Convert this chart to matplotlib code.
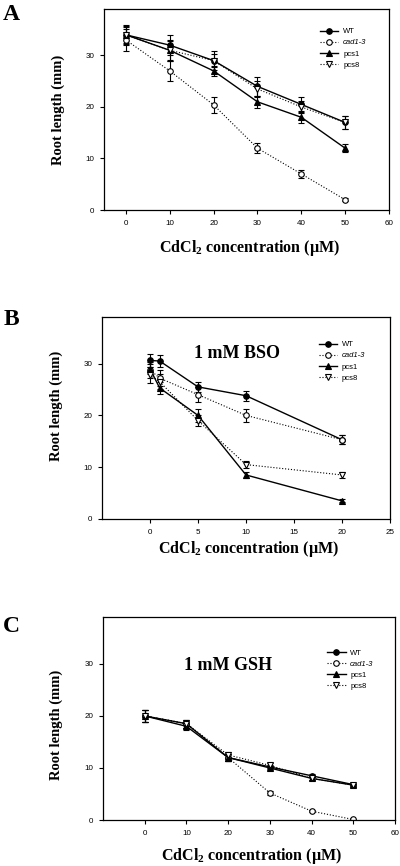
import numpy as np
import matplotlib
matplotlib.use("Agg")
import matplotlib.pyplot as plt
from matplotlib.lines import Line2D

plt.rcParams['font.family'] = ['Liberation Sans', 'DejaVu Sans']
plt.rcParams['mathtext.fontset'] = 'custom'
plt.rcParams['mathtext.rm'] = 'Liberation Serif:bold'
plt.rcParams['mathtext.default'] = 'rm'

labels = ['WT', 'cad1-3', 'pcs1', 'pcs8']

# Panel A - CdCl2 only
xA = [0, 10, 20, 30, 40, 50]
A_wt = [34, 32, 29, 24, 20.5, 17]
A_wt_err = [2, 2, 1.8, 1.9, 1.5, 1.3]
A_cad = [33, 27, 20.4, 12, 7, 2]
A_cad_err = [2.2, 2, 1.6, 1, 0.7, 0.3]
A_pcs1 = [34, 31, 27, 21, 18, 12]
A_pcs1_err = [1.8, 2, 1, 1.2, 1.2, 0.8]
A_pcs8 = [34, 31, 29, 23.5, 20, 17]
A_pcs8_err = [1.5, 1.8, 1.2, 1.5, 1.2, 1.2]

# Panel B - 1 mM BSO
xB = [0, 1, 5, 10, 20]
B_wt = [30.6, 30.5, 25.5, 23.8, 15.3]
B_wt_err = [1.3, 1.2, 1, 1, 0.9]
B_cad = [28.8, 27.2, 24, 20, 15.3]
B_cad_err = [1.5, 1.5, 1.5, 1.2, 0.9]
B_pcs1 = [29, 25.3, 20, 8.5, 3.5]
B_pcs1_err = [1, 1.2, 1.2, 0.6, 0.3]
B_pcs8 = [27.8, 26.5, 19, 10.5, 8.5]
B_pcs8_err = [1.5, 1.5, 1, 0.7, 0.5]

# Panel C - 1 mM GSH
xC = [0, 10, 20, 30, 40, 50]
C_wt = [20, 18.5, 12, 10.2, 8.5, 6.8]
C_wt_err = [1.2, 0.8, 0.6, 0.4, 0.3, 0.3]
C_cad = [20, 18.5, 12, 5.2, 1.7, 0.1]
C_cad_err = [1.2, 0.8, 0.6, 0.3, 0.2, 0.1]
C_pcs1 = [20, 18, 12, 10, 8, 6.7]
C_pcs1_err = [1.2, 0.8, 0.6, 0.4, 0.3, 0.3]
C_pcs8 = [20, 18.5, 12.5, 10.5, 8, 6.7]
C_pcs8_err = [1.2, 0.8, 0.6, 0.4, 0.3, 0.3]

styles = [
    dict(marker='o', mfc='black', ls='-', lw=1.0),
    dict(marker='o', mfc='white', ls=':', lw=0.8),
    dict(marker='^', mfc='black', ls='-', lw=1.0),
    dict(marker='v', mfc='white', ls=':', lw=0.8),
]

fig = plt.figure(figsize=(4, 8.66), dpi=100)


def panel(rect, x, series, xlim, xticks, letter, letter_y, note, note_pos,
          leg_anchor, xlab_y, ylab_y):
    ax = fig.add_axes(rect)
    for (y, e), st in zip(series, styles):
        ax.errorbar(x, y, yerr=e, color='black', ms=4, mec='black', mew=0.8,
                    elinewidth=0.8, capsize=2.5, capthick=1.1, **st)
    ax.set_xlim(*xlim)
    ax.set_ylim(0, 39)
    ax.set_xticks(xticks)
    ax.set_yticks([0, 10, 20, 30])
    ax.tick_params(direction='out', length=3, width=0.8, labelsize=5.8,
                   top=False, right=False, pad=4)
    for s in ax.spines.values():
        s.set_linewidth(0.9)
    ax.set_ylabel('Root length (mm)', fontfamily='Liberation Serif',
                  fontweight='bold', fontsize=10.5)
    ax.yaxis.set_label_coords(-0.137, ylab_y)
    ax.set_xlabel('CdCl$_2$ concentration (µM)', fontfamily='Liberation Serif',
                  fontweight='bold', fontsize=11.5)
    ax.xaxis.set_label_coords(0.51, xlab_y)
    handles = [Line2D([], [], color='black', ms=4, mec='black', mew=0.8, **st)
               for st in styles]
    leg = ax.legend(handles, labels, loc='upper left', bbox_to_anchor=leg_anchor,
                    frameon=False, fontsize=5.5, handlelength=2.4,
                    handletextpad=0.6, labelspacing=0.5, borderpad=0,
                    numpoints=1)
    leg.get_texts()[1].set_fontstyle('italic')
    fig.text(0.008, letter_y, letter, fontfamily='Liberation Serif',
             fontweight='bold', fontsize=17, va='top', ha='left')
    if note:
        ax.text(note_pos[0], note_pos[1], note, transform=ax.transAxes,
                fontfamily='Liberation Serif', fontweight='bold', fontsize=13,
                ha='center', va='center')
    return ax


panel([0.26, 0.7575, 0.7125, 0.232], xA,
      [(A_wt, A_wt_err), (A_cad, A_cad_err), (A_pcs1, A_pcs1_err), (A_pcs8, A_pcs8_err)],
      (-5, 60), range(0, 61, 10), 'A', 0.995, None, None,
      (0.745, 0.925), -0.14, 0.5)

panel([0.255, 0.4007, 0.72, 0.2333], xB,
      [(B_wt, B_wt_err), (B_cad, B_cad_err), (B_pcs1, B_pcs1_err), (B_pcs8, B_pcs8_err)],
      (-5, 25), range(0, 26, 5), 'B', 0.643, '1 mM BSO', (0.469, 0.82),
      (0.74, 0.9), -0.1, 0.56)

panel([0.2575, 0.0531, 0.73, 0.2344], xC,
      [(C_wt, C_wt_err), (C_cad, C_cad_err), (C_pcs1, C_pcs1_err), (C_pcs8, C_pcs8_err)],
      (-10, 60), range(0, 61, 10), 'C', 0.289, '1 mM GSH', (0.428, 0.763),
      (0.755, 0.86), -0.13, 0.47)

fig.savefig('out.png', dpi=100)
